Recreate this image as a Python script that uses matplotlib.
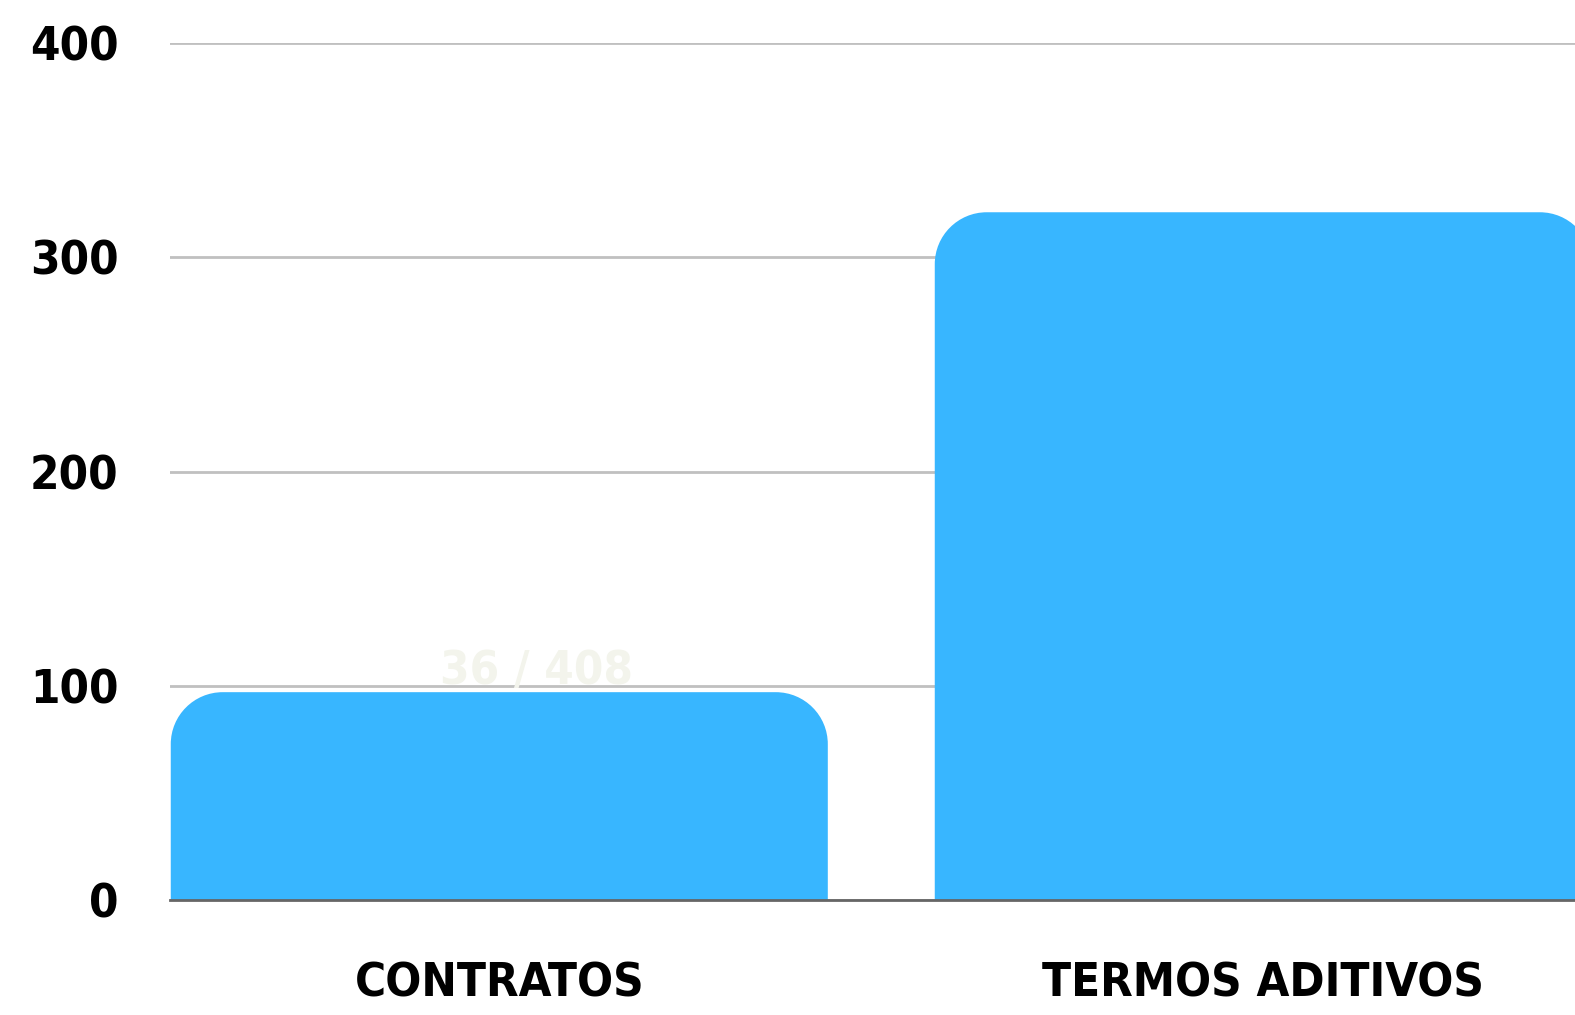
import matplotlib.pyplot as plt
from matplotlib.path import Path
from matplotlib.patches import PathPatch

# data
categories = ['CONTRATOS', 'TERMOS ADITIVOS']
values = [97, 321]
yticks = [0, 100, 200, 300, 400]
watermark = '36 / 408'

bar_color = '#38b6ff'
plt.rcParams['font.family'] = ['DejaVu Sans']
plt.rcParams['font.stretch'] = 'condensed'

fig = plt.figure(figsize=(15.75, 10.15), dpi=100)
ax = fig.add_axes([170 / 1575, 1 - 900 / 1015, 1 - 170 / 1575, (900 - 43) / 1015])

x = list(range(len(categories)))
bars = ax.bar(x, values, width=0.86, color=bar_color, zorder=3)
ax.set_xlim(-0.431, 1.408)
ax.set_ylim(0, 400)


def rounded_top(b, rx, ry):
    x0, w, h = b.get_x(), b.get_width(), b.get_height()
    x1 = x0 + w
    k = 0.5523
    verts = [
        (x0, 0), (x0, h - ry),
        (x0, h - ry + k * ry), (x0 + rx - k * rx, h), (x0 + rx, h),
        (x1 - rx, h),
        (x1 - rx + k * rx, h), (x1, h - ry + k * ry), (x1, h - ry),
        (x1, 0), (x0, 0),
    ]
    codes = [Path.MOVETO, Path.LINETO,
             Path.CURVE4, Path.CURVE4, Path.CURVE4,
             Path.LINETO,
             Path.CURVE4, Path.CURVE4, Path.CURVE4,
             Path.LINETO, Path.CLOSEPOLY]
    return Path(verts, codes)


# corner radius ~52 px converted to data units
rx = 52 / 764
ry = 52 / 2.1425
for b in bars:
    b.set_visible(False)
    ax.add_patch(PathPatch(rounded_top(b, rx, ry), facecolor=bar_color,
                           edgecolor='none', zorder=3, clip_on=True))

ax.set_yticks(yticks)
ax.yaxis.grid(True, color='#c0c0c0', linewidth=2, zorder=2)
ax.set_axisbelow(False)
ax.set_xticks(x)
ax.set_xticklabels(categories)
for spine in ['top', 'right', 'left']:
    ax.spines[spine].set_visible(False)
ax.spines['bottom'].set_color('#666666')
ax.spines['bottom'].set_linewidth(2)
ax.spines['bottom'].set_zorder(4)
ax.tick_params(axis='both', length=0, labelsize=34)
ax.tick_params(axis='y', pad=37)
ax.tick_params(axis='x', pad=44)
for lbl in ax.get_xticklabels() + ax.get_yticklabels():
    lbl.set_fontweight('bold')

fig.text(536 / 1575, 1 - 672 / 1015, watermark, ha='center', va='center',
         fontsize=34, fontweight='bold', color='#f3f4ec', zorder=0)

plt.savefig('out.png', dpi=100)
